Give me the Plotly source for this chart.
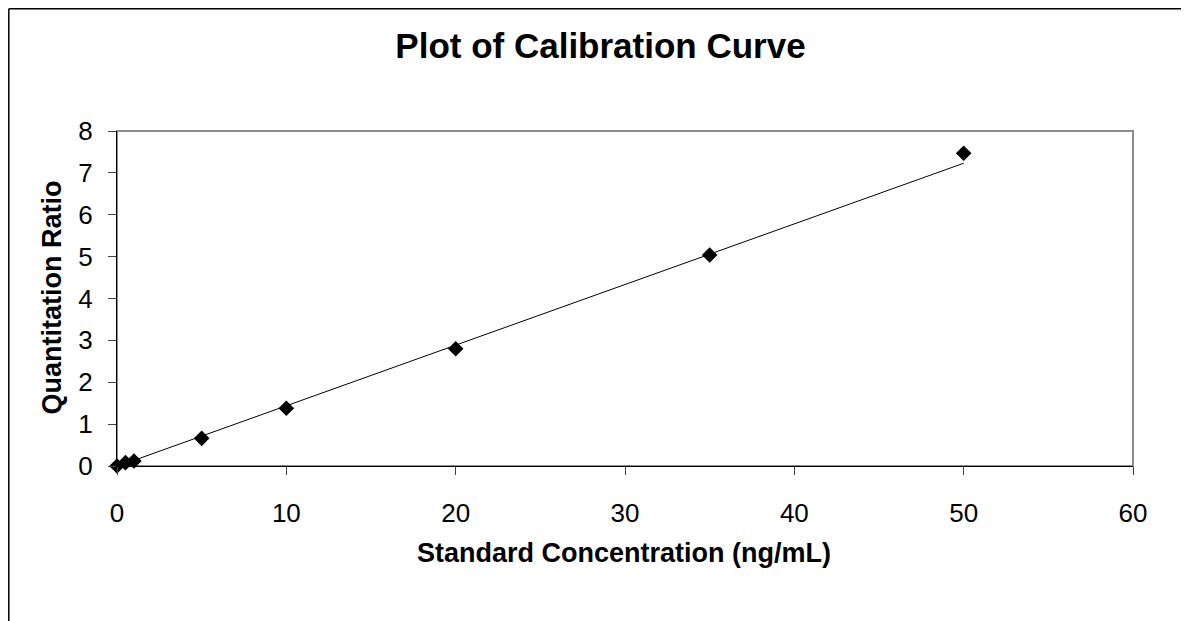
import plotly.graph_objects as go

# Data
conc = [0, 0.5, 1, 5, 10, 20, 35, 50]
ratio = [0.0, 0.08, 0.12, 0.66, 1.38, 2.80, 5.04, 7.47]
trend_x = [0, 50]
trend_y = [-0.01, 7.23]
x_ticks = [0, 10, 20, 30, 40, 50, 60]
y_ticks = [0, 1, 2, 3, 4, 5, 6, 7, 8]

OFF = 8  # page body margin
W, H = 1189 - 2 * OFF, 621 - OFF
# reference pixel positions of plot area
PL, PR, PT, PB = 117, 1133, 131, 466
L, T = PL - OFF, PT - OFF
R, B = W - (PR - OFF), H - (PB - OFF)
pw, ph = PR - PL, PB - PT

def px_x(p):
    return (p - PL) / pw

def px_y(p):
    return (PB - p) / ph

FONT = "Liberation Sans, Arial, sans-serif"

fig = go.Figure()
fig.add_trace(go.Scatter(x=trend_x, y=trend_y, mode="lines",
                         line=dict(color="black", width=1), hoverinfo="skip",
                         showlegend=False))
fig.add_trace(go.Scatter(x=conc, y=ratio, mode="markers",
                         marker=dict(symbol="diamond", size=12, color="black"),
                         cliponaxis=False, showlegend=False))

edge_x = px_x(OFF + 0.8)
edge_y = px_y(OFF + 0.8)

fig.update_layout(
    width=W, height=H,
    margin=dict(l=L, r=R, t=T, b=B, pad=0),
    paper_bgcolor="white", plot_bgcolor="white",
    font=dict(family=FONT, color="black"),
    title=dict(text="<b>Plot of Calibration Curve</b>", font=dict(size=35, family=FONT),
               x=(600.5 - OFF) / W, xref="container", xanchor="center",
               y=1 - (46 - OFF) / H, yref="container", yanchor="middle"),
    xaxis=dict(range=[0, 60], tickvals=x_ticks, ticks="outside", ticklen=8,
               tickcolor="#444", showline=True, linecolor="black", linewidth=1,
               showgrid=False, zeroline=False, tickfont=dict(size=26),
               ticklabelstandoff=16),
    yaxis=dict(range=[0, 8], tickvals=y_ticks, ticks="outside", ticklen=8,
               tickcolor="#444", showline=True, linecolor="black", linewidth=1,
               showgrid=False, zeroline=False, tickfont=dict(size=26),
               ticklabelstandoff=10),
    shapes=[
        dict(type="rect", xref="paper", yref="paper", x0=0, y0=0, x1=1, y1=1,
             line=dict(color="#8c8c8c", width=2), layer="below"),
        dict(type="line", xref="paper", yref="paper",
             x0=edge_x, y0=px_y(700), x1=edge_x, y1=edge_y,
             line=dict(color="black", width=1.5), layer="below"),
        dict(type="line", xref="paper", yref="paper",
             x0=edge_x, y0=edge_y, x1=px_x(1300), y1=edge_y,
             line=dict(color="black", width=1.5), layer="below"),
    ],
    annotations=[
        dict(text="<b>Standard Concentration (ng/mL)</b>", xref="paper", yref="paper",
             x=px_x(624), y=px_y(553), xanchor="center", yanchor="middle",
             showarrow=False, font=dict(size=27, family=FONT)),
        dict(text="<b>Quantitation Ratio</b>", xref="paper", yref="paper",
             x=px_x(51), y=px_y(297.5), xanchor="center", yanchor="middle",
             textangle=-90, showarrow=False, font=dict(size=27, family=FONT)),
    ],
)

fig.write_html("out.html")
